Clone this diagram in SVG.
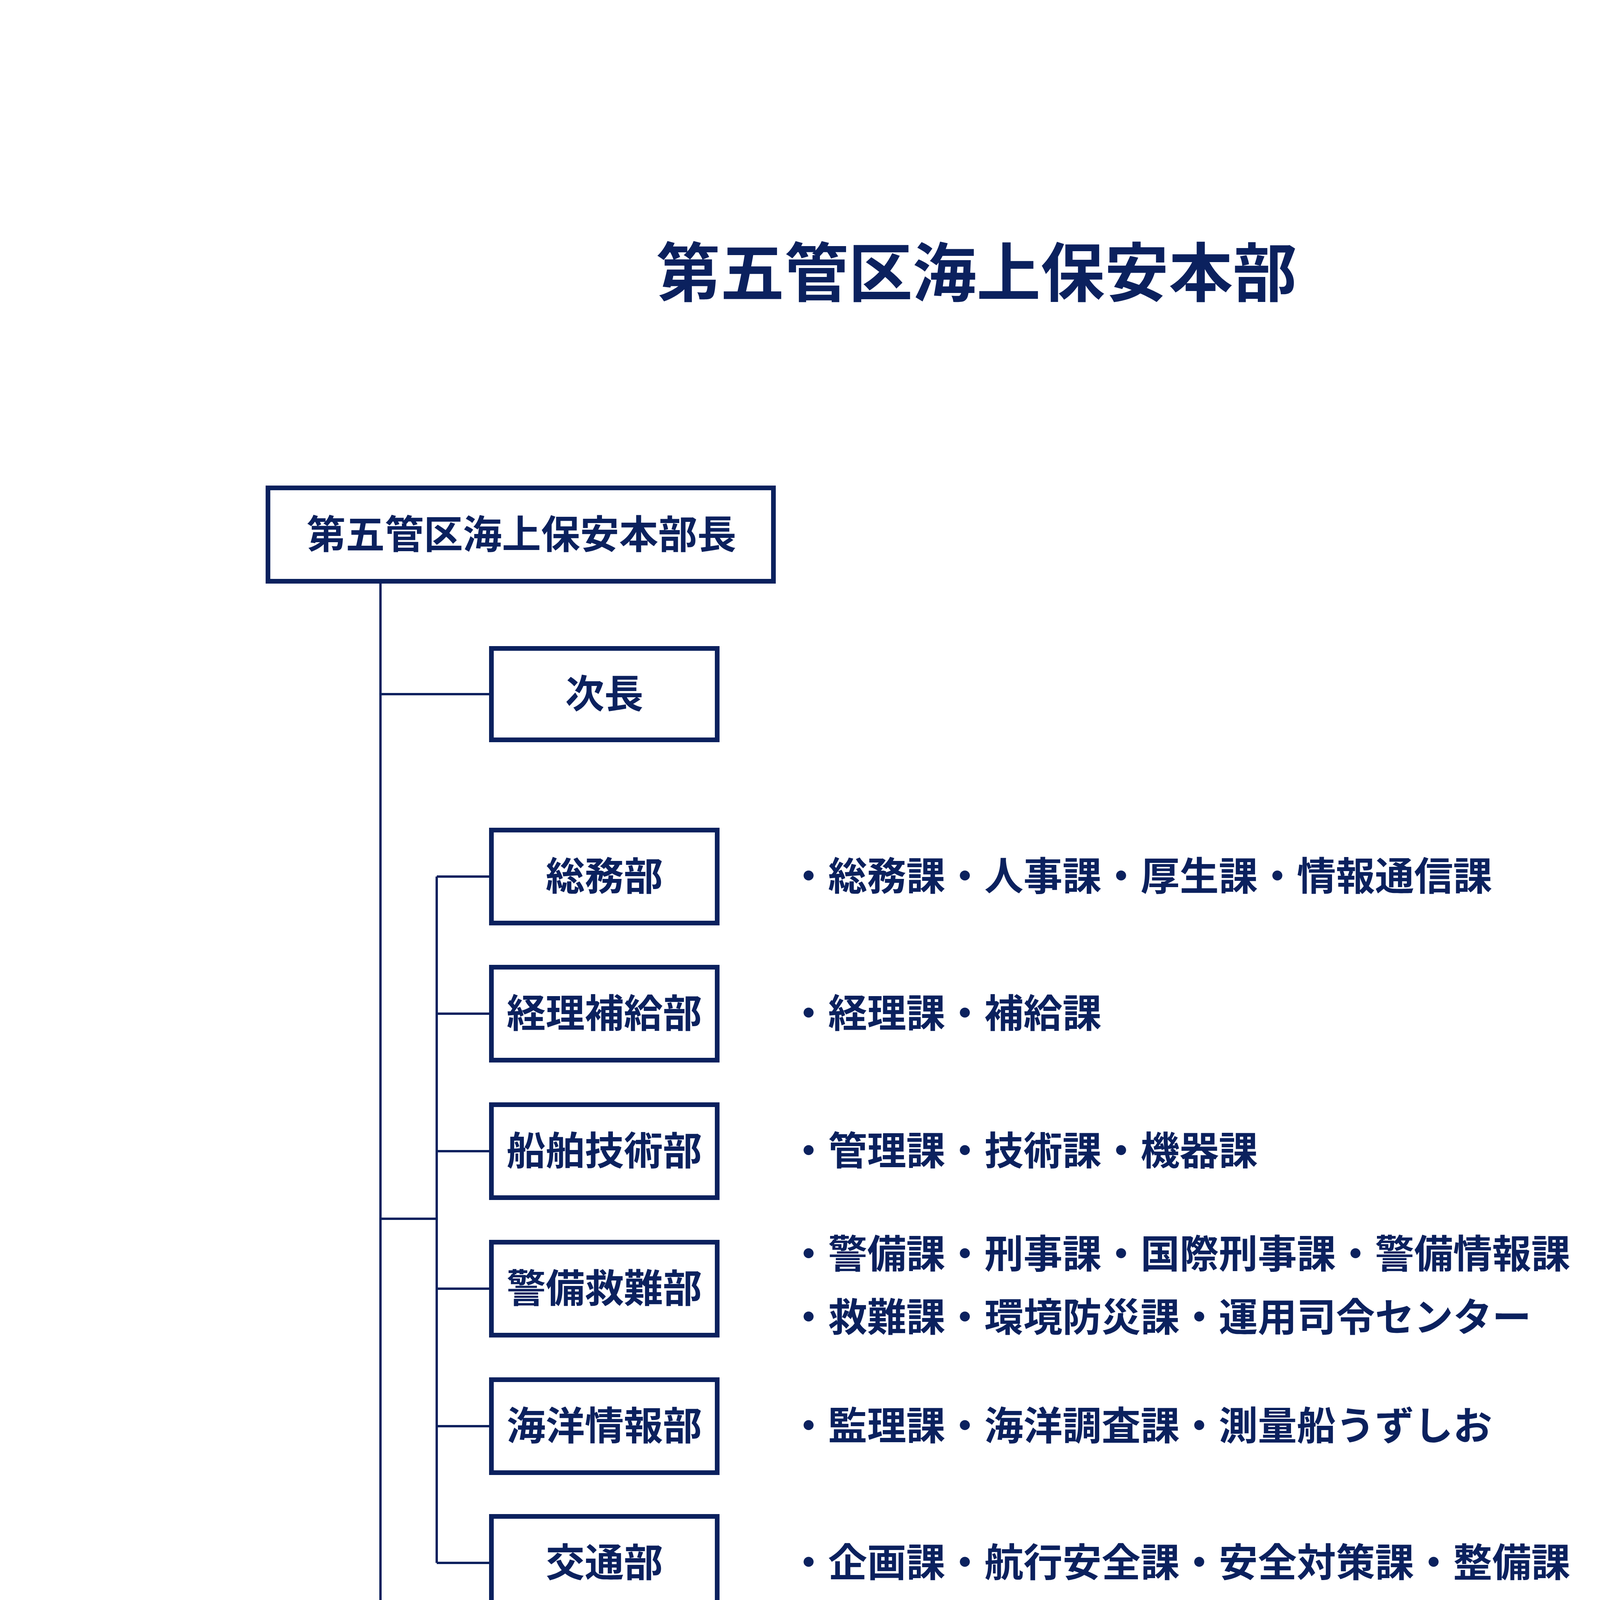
<svg xmlns="http://www.w3.org/2000/svg" width="4961" height="7016" viewBox="0 0 4961 7016">
<style>
text{font-family:"Noto Sans CJK JP","Noto Sans",sans-serif;font-weight:bold;fill:#0b215e;font-size:100px}
.box{fill:#fff;stroke:#0b215e;stroke-width:12}
.ln{fill:none;stroke:#0b215e;stroke-width:6}
.c{text-anchor:middle}
</style>
<rect width="4961" height="7016" fill="#fff"/>
<text x="2500" y="758" class="c" style="font-size:164px">第五管区海上保安本部</text>
<g id="connectors">
<path class="ln" d="M974 1488V4523H1258M974 1777H1258M974 3120H1118M1118 2244V4001M1118 2244H1258M1118 2595H1258M1118 2947H1258M1118 3299H1258M1118 3651H1258M1118 4001H1258"/>
</g>
<g id="chief"><rect class="box" x="686" y="1249" width="1294" height="239"/><text x="1335" y="1404" class="c">第五管区海上保安本部長</text></g>
<g id="deputy"><rect class="box" x="1258" y="1660" width="578" height="234"/><text x="1547" y="1812" class="c">次長</text></g>
<g id="soumu"><rect class="box" x="1258" y="2125" width="578" height="238"/><text x="1547" y="2279" class="c">総務部</text><text x="2020" y="2279">・総務課・人事課・厚生課・情報通信課</text></g>
<g id="keiri"><rect class="box" x="1258" y="2476" width="578" height="238"/><text x="1547" y="2630" class="c">経理補給部</text><text x="2020" y="2630">・経理課・補給課</text></g>
<g id="senpaku"><rect class="box" x="1258" y="2828" width="578" height="238"/><text x="1547" y="2982" class="c">船舶技術部</text><text x="2020" y="2982">・管理課・技術課・機器課</text></g>
<g id="keibi"><rect class="box" x="1258" y="3180" width="578" height="238"/><text x="1547" y="3334" class="c">警備救難部</text><text x="2020" y="3246">・警備課・刑事課・国際刑事課・警備情報課</text><text x="2020" y="3408">・救難課・環境防災課・運用司令センター</text></g>
<g id="kaiyou"><rect class="box" x="1258" y="3532" width="578" height="238"/><text x="1547" y="3686" class="c">海洋情報部</text><text x="2020" y="3686">・監理課・海洋調査課・測量船うずしお</text></g>
<g id="koutsu"><rect class="box" x="1258" y="3882" width="578" height="238"/><text x="1547" y="4036" class="c">交通部</text><text x="2020" y="4036">・企画課・航行安全課・安全対策課・整備課</text></g>
<g id="offices"><rect class="box" x="1258" y="4289" width="1872" height="532"/><text x="1344" y="4419">各海上保安（監）部・署・航空基地</text><text x="1344" y="4586">大阪湾海上交通センター</text><text x="1344" y="4752">下里水路観測所</text></g>
</svg>
